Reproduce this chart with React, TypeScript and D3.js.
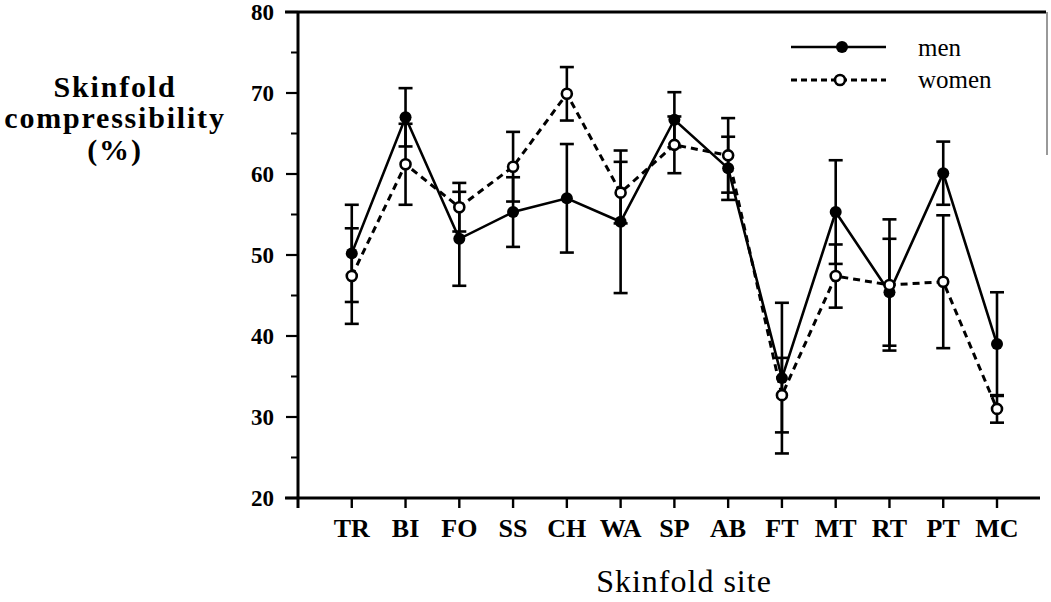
import React from 'react';
import * as d3 from 'd3';

const sites = ['TR', 'BI', 'FO', 'SS', 'CH', 'WA', 'SP', 'AB', 'FT', 'MT', 'RT', 'PT', 'MC'];
const menMean = [50.2, 67.0, 52.0, 55.3, 57.0, 54.1, 66.7, 60.7, 34.8, 55.3, 45.4, 60.1, 39.0];
const menSd = [6.0, 3.6, 5.8, 4.3, 6.7, 8.8, 3.4, 3.9, 9.3, 6.4, 6.6, 3.9, 6.4];
const womenMean = [47.4, 61.2, 55.9, 60.9, 69.9, 57.7, 63.6, 62.3, 32.7, 47.4, 46.3, 46.7, 31.0];
const womenSd = [5.9, 5.0, 3.0, 4.3, 3.3, 3.8, 3.5, 4.6, 4.6, 3.9, 8.1, 8.2, 1.7];
const yTicks = [20, 30, 40, 50, 60, 70, 80];
const yMinor = [25, 35, 45, 55, 65, 75];

const W = 1051;
const H = 602;
const FONT = '"Liberation Serif", "Times New Roman", serif';

export default function App() {
  // category i sits at position i + 1, the y axis is at 0
  const x = d3.scaleLinear().domain([0, 13]).range([298, 997]);
  const y = d3.scaleLinear().domain([20, 80]).range([498, 12]);

  const line = d3
    .line<number>()
    .x((_, i) => x(i + 1))
    .y((d) => y(d));

  const capW = 7;

  const errorBars = (means: number[], sds: number[], key: string) =>
    means.map((m, i) => {
      const cx = x(i + 1);
      const top = y(m + sds[i]);
      const bot = y(m - sds[i]);
      return (
        <g key={key + i} stroke="#000" strokeWidth={2.6}>
          <line x1={cx} x2={cx} y1={top} y2={bot} />
          <line x1={cx - capW} x2={cx + capW} y1={top} y2={top} />
          <line x1={cx - capW} x2={cx + capW} y1={bot} y2={bot} />
        </g>
      );
    });

  return (
    <svg width={W} height={H} style={{ position: 'absolute', left: 0, top: 0, background: '#fff' }}>
      {/* frame */}
      <line x1={285} x2={1046} y1={y(80)} y2={y(80)} stroke="#000" strokeWidth={3} />
      <line x1={1047} x2={1047} y1={y(80)} y2={155} stroke="#555" strokeWidth={1.2} />

      {/* y axis */}
      <line x1={x(0)} x2={x(0)} y1={y(80)} y2={y(20) + 10} stroke="#000" strokeWidth={3} />
      {yTicks.map((t) => (
        <g key={'yt' + t}>
          <line x1={x(0) - 12} x2={x(0)} y1={y(t)} y2={y(t)} stroke="#000" strokeWidth={2.2} />
          <text
            x={274}
            y={y(t) + 8}
            textAnchor="end"
            fontFamily={FONT}
            fontWeight="bold"
            fontSize={23}
          >
            {t}
          </text>
        </g>
      ))}
      {yMinor.map((t) => (
        <line key={'ym' + t} x1={x(0) - 7} x2={x(0)} y1={y(t)} y2={y(t)} stroke="#000" strokeWidth={2} />
      ))}

      {/* x axis */}
      <line x1={285} x2={1040} y1={y(20)} y2={y(20)} stroke="#000" strokeWidth={3} />
      {sites.map((s, i) => (
        <g key={'xt' + s}>
          <line x1={x(i + 1)} x2={x(i + 1)} y1={y(20)} y2={y(20) + 10} stroke="#000" strokeWidth={2.4} />
          <text
            x={x(i + 1)}
            y={537}
            textAnchor="middle"
            fontFamily={FONT}
            fontWeight="bold"
            fontSize={26}
          >
            {s}
          </text>
        </g>
      ))}

      {/* axis titles */}
      <text x={684} y={592} textAnchor="middle" fontFamily={FONT} fontSize={32} letterSpacing={1}>
        Skinfold site
      </text>
      <g fontFamily={FONT} fontWeight="bold" fontSize={30} letterSpacing={1.8} textAnchor="middle">
        <text x={115} y={97}>Skinfold</text>
        <text x={115} y={128}>compressibility</text>
        <text x={115} y={160}>(%)</text>
      </g>

      {/* error bars */}
      {errorBars(womenMean, womenSd, 'we')}
      {errorBars(menMean, menSd, 'me')}

      {/* series lines */}
      <path d={line(womenMean) ?? ''} fill="none" stroke="#000" strokeWidth={3} strokeDasharray="7,5" />
      <path d={line(menMean) ?? ''} fill="none" stroke="#000" strokeWidth={2.6} />

      {/* markers */}
      {menMean.map((m, i) => (
        <circle key={'mm' + i} cx={x(i + 1)} cy={y(m)} r={6} fill="#000" />
      ))}
      {womenMean.map((m, i) => (
        <circle key={'wm' + i} cx={x(i + 1)} cy={y(m)} r={5} fill="#fff" stroke="#000" strokeWidth={2.6} />
      ))}

      {/* legend */}
      <line x1={791} x2={886} y1={47} y2={47} stroke="#000" strokeWidth={2.6} />
      <circle cx={842} cy={47} r={6} fill="#000" />
      <text x={918} y={56} fontFamily={FONT} fontSize={25}>men</text>
      <line x1={791} x2={886} y1={80} y2={80} stroke="#000" strokeWidth={3} strokeDasharray="6,4" />
      <circle cx={840} cy={80} r={5} fill="#fff" stroke="#000" strokeWidth={2.6} />
      <text x={918} y={88} fontFamily={FONT} fontSize={25}>women</text>
    </svg>
  );
}
